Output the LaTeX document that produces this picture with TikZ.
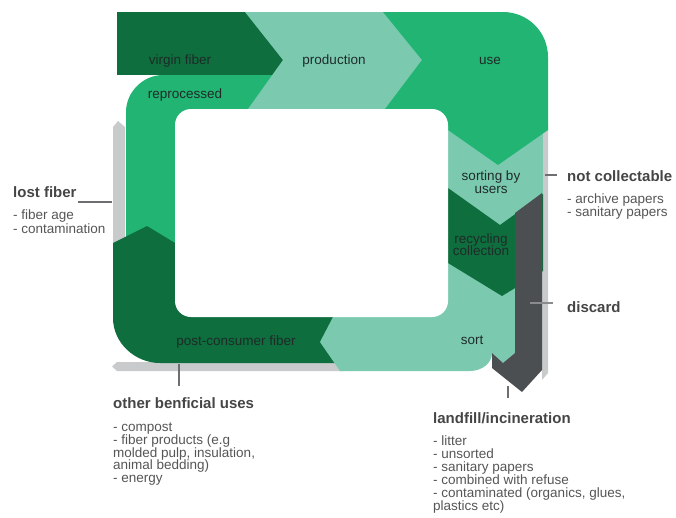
\documentclass[tikz,border=0pt]{standalone}
\usepackage{fontspec}
\setmainfont{Liberation Sans}
\definecolor{dkgreen}{HTML}{0E6E3E}
\definecolor{mdgreen}{HTML}{22B473}
\definecolor{ltgreen}{HTML}{7BCAB0}
\definecolor{dkgray}{HTML}{4C4F52}
\definecolor{ltgray}{HTML}{C8CACC}
\definecolor{tickc}{HTML}{6D6E71}
\definecolor{headc}{HTML}{454545}
\definecolor{itemc}{HTML}{555555}
\definecolor{flowc}{HTML}{1E2B28}
\tikzset{
  flowlbl/.style={font=\fontsize{13.5}{14}\selectfont, text=flowc, inner sep=0pt, anchor=base},
  head/.style={font=\fontsize{15}{16}\selectfont\bfseries, text=headc, inner sep=0pt, anchor=base west},
  item/.style={font=\fontsize{13.5}{14}\selectfont, text=itemc, inner sep=0pt, anchor=base west},
  tickline/.style={draw=tickc, line width=1.6pt},
}
\begin{document}
\begin{tikzpicture}[x=1pt,y=-1pt]
\useasboundingbox (0,0) rectangle (676,517);
% gray strips
\fill[ltgray] (113,127) -- (118,121) -- (125,127) -- (125,250) -- (113,250) -- cycle;
\fill[ltgray] (112,366.5) -- (117,362) -- (345,362) -- (345,371) -- (117,371) -- cycle;
\fill[ltgray] (542,125) -- (548,125) -- (548,373) -- (542,380) -- cycle;
% virgin fiber
\fill[dkgreen] (117,12) rectangle (300,75);
% reprocessed
\fill[mdgreen] (126,250) -- (126,112) .. controls (126,92) and (143,75) .. (163,75)
  -- (300,75) -- (300,109) -- (200,109) -- (200,250) -- cycle;
% production
\fill[ltgreen] (245,12) -- (432,12) -- (432,109) -- (248,109) -- (283,60) -- cycle;
% sorting by users
\fill[ltgreen] (448,120) rectangle (543,230);
% use
\fill[mdgreen] (383,12) -- (503,12) .. controls (528,12) and (548,32) .. (548,57)
  -- (548,130) -- (498,165) -- (448,130) -- (430,130) -- (430,109) -- (385,109)
  -- (422,60) -- cycle;
% post-consumer fiber
\fill[dkgreen] (113,243) -- (147,226) -- (175,243) -- (200,243) -- (200,300)
  -- (345,300) -- (345,363) -- (160,363) .. controls (135,363) and (113,343) .. (113,318) -- cycle;
% sort
\fill[ltgreen] (342,300) -- (333,317) -- (320,342) -- (340,371) -- (470,371)
  .. controls (482,371) and (492,363) .. (492,353) -- (503,363) -- (515,353)
  -- (515,250) -- (448,250) -- (448,300) -- cycle;
% recycling collection
\fill[dkgreen] (448,188) -- (500,225) -- (543,194) -- (543,271) -- (502,296) -- (448,263) -- cycle;
% white centre
\fill[white, rounded corners=16pt] (175,109) rectangle (448,317);
% discard
\fill[dkgray] (515,213) -- (542,193) -- (542,370) -- (522,392) -- (492,368)
  -- (492,353) -- (503,363) -- (515,353) -- cycle;

% flow labels
\node[flowlbl] (virgin) at (180,64) {virgin fiber};
\node[flowlbl] (prod) at (334,64) {production};
\node[flowlbl] (repro) at (185,98) {reprocessed};
\node[flowlbl] (use) at (490,64) {use};
\node[flowlbl] (sortA) at (491,180) {sorting by};
\node[flowlbl] (sortB) at (491,193) {users};
\node[flowlbl] (recA) at (481,243) {recycling};
\node[flowlbl] (recB) at (481,255) {collection};
\node[flowlbl] (sort) at (472,344) {sort};
\node[flowlbl] (post) at (236,345) {post-consumer fiber};

% lost fiber
\node[head] (lost) at (13,197) {lost fiber};
\node[item] (lost1) at (13,219) {- fiber age};
\node[item] (lost2) at (13,233) {- contamination};
\coordinate (lostT1) at (78,202);
\coordinate (lostT2) at (112,202);
\draw[tickline] (lostT1) -- (lostT2);

% not collectable
\node[head] (notc) at (567,181) {not collectable};
\node[item] (notc1) at (567,203) {- archive papers};
\node[item] (notc2) at (567,216) {- sanitary papers};
\coordinate (notcT1) at (545,175);
\coordinate (notcT2) at (557,175);
\draw[tickline] (notcT1) -- (notcT2);

% discard
\node[head] (disc) at (567,312) {discard};
\coordinate (discT1) at (530,303);
\coordinate (discT2) at (553,303);
\draw[tickline, draw=tickc!80] (discT1) -- (discT2);

% other beneficial uses
\node[head] (other) at (113,408) {other benficial uses};
\node[item] (oth1) at (113,431) {- compost};
\node[item] (oth2) at (113,444) {- fiber products (e.g};
\node[item] (oth3) at (113,457) {molded pulp, insulation,};
\node[item] (oth4) at (113,469.5) {animal bedding)};
\node[item] (oth5) at (113,482) {- energy};
\coordinate (othT1) at (179,364);
\coordinate (othT2) at (179,386);
\draw[tickline] (othT1) -- (othT2);

% landfill
\node[head] (land) at (433,423) {landfill/incineration};
\node[item] (land1) at (433,445) {- litter};
\node[item] (land2) at (433,458) {- unsorted};
\node[item] (land3) at (433,471) {- sanitary papers};
\node[item] (land4) at (433,484) {- combined with refuse};
\node[item] (land5) at (433,497) {- contaminated (organics, glues,};
\node[item] (land6) at (433,510) {plastics etc)};
\coordinate (landT1) at (508,386);
\coordinate (landT2) at (508,398);
\draw[tickline] (landT1) -- (landT2);
\end{tikzpicture}
\end{document}
